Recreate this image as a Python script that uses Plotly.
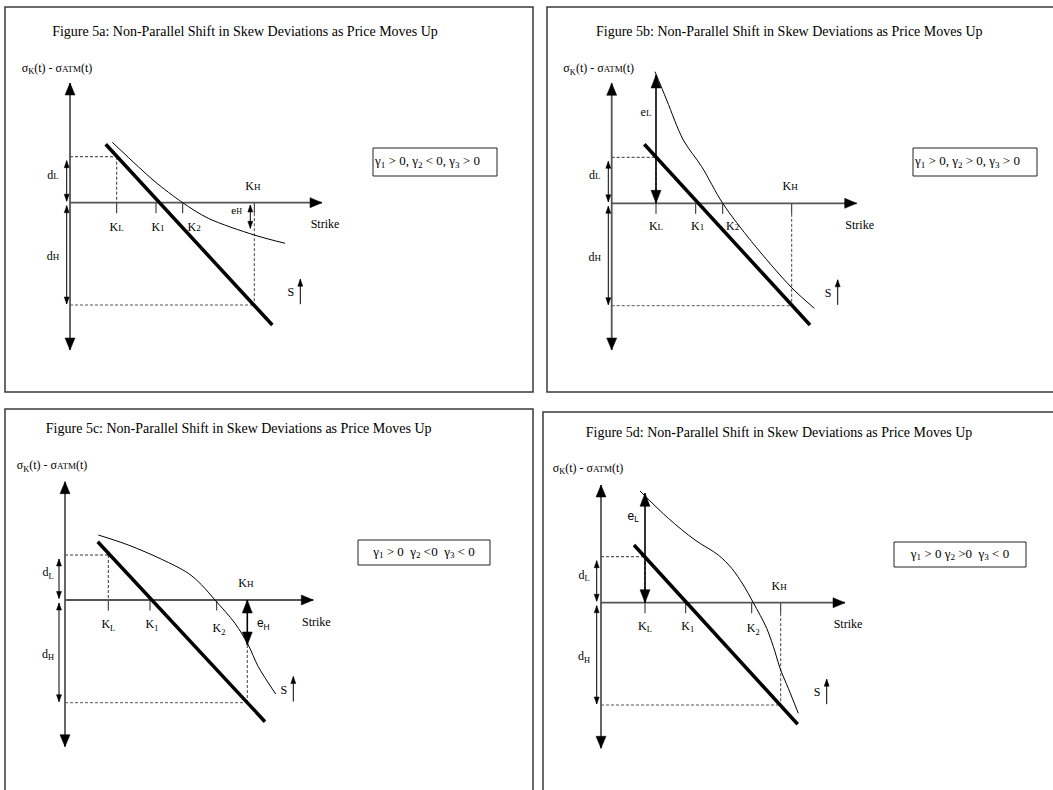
import plotly.graph_objects as go

FIG_W, FIG_H = 1053, 790
SERIF = "Liberation Serif, Times New Roman, serif"
SANS = "Liberation Sans, Arial, sans-serif"

# ---------------------------------------------------------------- data
PANEL_IDS = ["5a", "5b", "5c", "5d"]
TITLE_TEXT = "Figure {}: Non-Parallel Shift in Skew Deviations as Price Moves Up"
NB = "\u00a0"
GAMMA_LABELS = [
    "γ<sub>1</sub> &gt; 0, γ<sub>2</sub> &lt; 0, γ<sub>3</sub> &gt; 0",
    "γ<sub>1</sub> &gt; 0, γ<sub>2</sub> &gt; 0, γ<sub>3</sub> &gt; 0",
    f"γ<sub>1</sub> &gt; 0{NB} γ<sub>2</sub> &lt;0{NB} γ<sub>3</sub> &lt; 0",
    f"γ<sub>1</sub> &gt; 0 γ<sub>2</sub> &gt;0{NB} γ<sub>3</sub> &lt; 0",
]

# strikes, measured to the right of the deviation axis
K_LOW = [46.7, 44.3, 43.3, 44.0]
K_ONE = [86.0, 84.0, 85.0, 84.7]
K_TWO = [112.7, 111.0, 151.7, 150.7]
K_HIGH = [184.3, 180.0, 182.3, 179.7]

# skew deviation of the current skew at K_L (d_L) and at K_H (-d_H)
D_LOW = [46.0, 46.0, 45.0, 46.0]
D_HIGH = [102.3, 102.4, 102.7, 102.3]

# extra deviation after the move at K_L (e_L) and K_H (e_H)
E_LOW = [None, 128.3, None, 109.4]
E_HIGH = [25.6, None, 45.0, None]

# current skew (straight line): end points
SKEW_NOW_K = [[35.7, 202.3], [32.6, 198.3], [32.7, 200.0], [33.0, 196.7]]
SKEW_NOW_DEV = [[58.4, -122.3], [59.0, -121.7], [58.3, -121.7], [57.7, -121.6]]

# skew after the price moves up
SKEW_UP_K_A = [42.3, 68.3, 85.0, 112.7, 138.3, 184.3, 215.0]
SKEW_UP_DEV_A = [60.4, 36.0, 21.0, 0.0, -15.6, -32.3, -40.6]
SKEW_UP_K_B = [43.3, 55.0, 71.6, 90.0, 111.0, 140.0, 180.0, 202.6]
SKEW_UP_DEV_B = [131.6, 103.3, 63.3, 36.6, 0.0, -38.4, -84.4, -105.0]
SKEW_UP_K_C = [33.3, 63.3, 96.7, 123.3, 136.7, 150.0, 170.0, 183.3, 193.3, 210.7]
SKEW_UP_DEV_C = [65.0, 55.0, 40.7, 26.7, 15.0, 0.0, -23.3, -45.0, -66.7, -94.0]
SKEW_UP_K_D = [39.0, 67.3, 94.0, 117.3, 130.7, 142.3, 152.3, 165.7, 174.0, 179.0, 187.3, 197.3]
SKEW_UP_DEV_D = [111.7, 84.4, 62.7, 47.7, 34.4, 17.7, 0.0, -25.6, -49.0, -65.6, -85.6, -110.6]

SKEW_UP_K = [SKEW_UP_K_A, SKEW_UP_K_B, SKEW_UP_K_C, SKEW_UP_K_D]
SKEW_UP_DEV = [SKEW_UP_DEV_A, SKEW_UP_DEV_B, SKEW_UP_DEV_C, SKEW_UP_DEV_D]

# ---------------------------------------------------------------- layout
# panel frames (left, top, right, bottom) and axis origin, in page pixels;
# each panel's axes run at one unit per pixel
FRAME_PX = [(5, 7, 533, 392), (547, 7, 1080, 392), (5, 409, 533, 820), (543, 412, 1080, 820)]
ORIGIN_PX = [(70.0, 202.7), (611.7, 203.3), (65.0, 600.0), (601.0, 602.7)]
X_TIP = [252.0, 245.0, 248.3, 244.0]
Y_TIP_UP = [119.7, 120.0, 118.3, 117.7]
Y_TIP_DOWN = [-147.3, -146.7, -146.7, -145.6]
TITLE_POS = [(175.0, 170.7), (177.6, 171.3), (173.7, 171.0), (178.0, 169.7)]
BOX_POS = [(303, 427, 26.7, 54.7), (301.3, 425.3, 27.3, 55.3), (293, 425, 35, 60), (293, 425, 35.7, 60.7)]
D_ARROW_X = [-3.3, -3.4, -6.0, -4.3]
K2_LABEL_SHIFT = [11.5, 10.0, 2.3, 1.6]
K2_LABEL_Y = [-25.6, -23.4, -29.3, -26.3]
K_LABEL_Y = [-25.6, -23.4, -25.0, -24.0]

AXIS_HEAD = (12.0, 10.0)    # arrow head length, width
BIG_HEAD = (13.0, 10.0)
SMALL_HEAD = (7.0, 5.0)


def small(s, size=9):
    return f"<span style='font-size:{size}px'>{s}</span>"


def sub(s):
    return f"<sub>{s}</sub>"


fig = go.Figure()
axes = {}


def add_line(xa, ya, xs, ys, width=1.0, color="black", dash=None, shape="linear"):
    fig.add_trace(go.Scatter(
        x=xs, y=ys, xaxis=xa, yaxis=ya, mode="lines", hoverinfo="skip",
        line=dict(width=width, color=color, dash=dash, shape=shape, smoothing=0.9),
        showlegend=False,
    ))


def add_head(xa, ya, tip, tail, head, color="black"):
    """Filled triangular head with its point on `tip`, aimed away from `tail`."""
    length, width = head
    dx, dy = tip[0] - tail[0], tip[1] - tail[1]
    n = (dx * dx + dy * dy) ** 0.5
    ux, uy = dx / n, dy / n
    bx, by = tip[0] - ux * length, tip[1] - uy * length
    px, py = -uy * width / 2, ux * width / 2
    fig.add_trace(go.Scatter(
        x=[tip[0], bx + px, bx - px, tip[0]], y=[tip[1], by + py, by - py, tip[1]],
        xaxis=xa, yaxis=ya, mode="lines", fill="toself", fillcolor=color,
        line=dict(width=0.5, color=color), hoverinfo="skip", showlegend=False,
    ))


def add_arrow(xa, ya, tail, tip, head, width=1.0, color="black", head_color="black", both=False):
    add_line(xa, ya, [tail[0], tip[0]], [tail[1], tip[1]], width=width, color=color)
    add_head(xa, ya, tip, tail, head, head_color)
    if both:
        add_head(xa, ya, tail, tip, head, head_color)


def add_text(xa, ya, x, y, text, size=12, family=SERIF, pos="middle center"):
    fig.add_trace(go.Scatter(
        x=[x], y=[y], xaxis=xa, yaxis=ya, mode="text", text=[text],
        textposition=pos, textfont=dict(family=family, size=size, color="black"),
        hoverinfo="skip", showlegend=False, cliponaxis=False,
    ))


DASH = "3px,2px"
for i in range(4):
    fl, ft, fr, fb = FRAME_PX[i]
    ox, oy = ORIGIN_PX[i]
    vr, vb = min(fr, FIG_W), min(fb, FIG_H)
    sfx = "" if i == 0 else str(i + 1)
    xa, ya = "x" + sfx, "y" + sfx
    axes["xaxis" + sfx] = dict(domain=[fl / FIG_W, vr / FIG_W], range=[fl - ox, vr - ox],
                               visible=False, fixedrange=True, anchor=ya)
    axes["yaxis" + sfx] = dict(domain=[1 - vb / FIG_H, 1 - ft / FIG_H], range=[oy - vb, oy - ft],
                               visible=False, fixedrange=True, anchor=xa)

    # panel frame
    fig.add_shape(type="rect", xref="paper", yref="paper",
                  x0=fl / FIG_W, x1=fr / FIG_W, y0=1 - fb / FIG_H, y1=1 - ft / FIG_H,
                  line=dict(color="#3a3a3a", width=1.5), fillcolor="rgba(0,0,0,0)")

    kl, k1, k2, kh = K_LOW[i], K_ONE[i], K_TWO[i], K_HIGH[i]
    dl, dh = D_LOW[i], D_HIGH[i]

    # gamma box
    bx0, bx1, by0, by1 = BOX_POS[i]
    fig.add_shape(type="rect", xref=xa, yref=ya, x0=bx0, x1=bx1, y0=by0, y1=by1,
                  line=dict(color="#222", width=1), fillcolor="white", layer="below")
    if i < 2:
        add_text(xa, ya, bx0 + 2, (by0 + by1) / 2, GAMMA_LABELS[i], size=13, pos="middle right")
    else:
        add_text(xa, ya, (bx0 + bx1) / 2, (by0 + by1) / 2, GAMMA_LABELS[i], size=13)

    # guide lines to K_L and K_H
    add_line(xa, ya, [0, kl], [dl, dl], color="#333", dash=DASH)
    add_line(xa, ya, [kl, kl], [dl, 0], color="#333", dash=DASH)
    add_line(xa, ya, [0, kh], [-dh, -dh], color="#555", dash=DASH)
    kh_top = -E_HIGH[i] if E_HIGH[i] is not None and i != 0 else -10.5
    add_line(xa, ya, [kh, kh], [kh_top, -dh], color="#444", dash=DASH)

    # strike ticks
    for k in (kl, k1, k2, kh):
        add_line(xa, ya, [k, k], [0, -10.5], width=1, color="#222")

    # axes with arrow heads
    add_arrow(xa, ya, (0, Y_TIP_DOWN[i]), (0, Y_TIP_UP[i]), AXIS_HEAD, width=1.8,
              color="#555", both=True)
    add_arrow(xa, ya, (0, 0), (X_TIP[i], 0), AXIS_HEAD, width=1.8, color="#555")

    # skews
    add_line(xa, ya, SKEW_UP_K[i], SKEW_UP_DEV[i], width=1.0, color="black", shape="spline")
    add_line(xa, ya, SKEW_NOW_K[i], SKEW_NOW_DEV[i], width=3.5, color="black")

    # d_L and d_H
    dx = D_ARROW_X[i]
    add_arrow(xa, ya, (dx, dl - 4), (dx, 1.5), SMALL_HEAD, both=True)
    add_arrow(xa, ya, (dx, -3), (dx, -dh + 1), SMALL_HEAD, both=True)
    sub_d = sub if i >= 2 else small
    add_text(xa, ya, -17, 27, "d" + sub_d("L"))
    add_text(xa, ya, -17, -54.5, "d" + sub_d("H"))

    # e_L / e_H
    if E_LOW[i] is not None:
        add_arrow(xa, ya, (kl, 0), (kl, E_LOW[i]), BIG_HEAD, width=1.6, both=True)
        if i == 1:
            add_text(xa, ya, kl - 10, 90, "e" + small("L"))
        else:
            add_text(xa, ya, kl - 11.7, 86, "e" + sub("L"), family=SANS)
    if E_HIGH[i] is not None:
        if i == 0:
            add_arrow(xa, ya, (kh - 4, -2.3), (kh - 4, -E_HIGH[i]), SMALL_HEAD, both=True)
            add_text(xa, ya, kh - 17.6, -9, "e" + small("H", 8), size=11)
        else:
            add_arrow(xa, ya, (kh, 0), (kh, -E_HIGH[i]), BIG_HEAD, width=1.6, both=True)
            add_text(xa, ya, kh + 16, -24, "e" + sub("H"), family=SANS)

    # strike labels
    sub_k = sub if i >= 2 else small
    add_text(xa, ya, kl, K_LABEL_Y[i], "K" + sub_k("L"))
    add_text(xa, ya, k1 + 2, K_LABEL_Y[i], "K" + sub_k("1"))
    add_text(xa, ya, k2 + K2_LABEL_SHIFT[i], K2_LABEL_Y[i], "K" + sub_k("2"))
    add_text(xa, ya, kh - 1.5, 16, "K" + small("H"))
    add_text(xa, ya, X_TIP[i] + 3, -22.5, "Strike")

    # price move marker
    add_text(xa, ya, kh + 36.5, -90.5, "S")
    add_arrow(xa, ya, (kh + 46, -101.5), (kh + 46, -76.5), SMALL_HEAD)

    # title and axis label
    tx, ty = TITLE_POS[i]
    add_text(xa, ya, tx, ty, TITLE_TEXT.format(PANEL_IDS[i]), size=14)
    add_text(xa, ya, -13, 134, "σ" + sub("K") + "(t) - σ" + small("ATM") + "(t)")

fig.update_layout(
    width=FIG_W, height=FIG_H,
    margin=dict(l=0, r=0, t=0, b=0),
    paper_bgcolor="white", plot_bgcolor="rgba(0,0,0,0)",
    font=dict(family=SERIF, size=12, color="black"),
    showlegend=False,
    **axes,
)

fig.write_html("out.html")
